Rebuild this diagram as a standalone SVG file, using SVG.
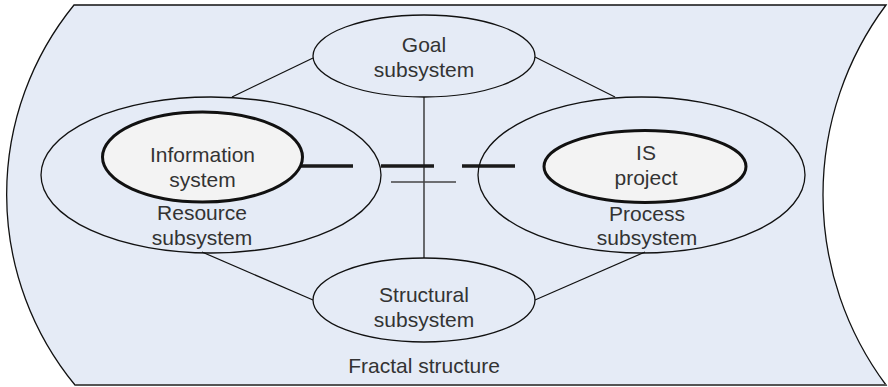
<svg xmlns="http://www.w3.org/2000/svg" width="888" height="387" viewBox="0 0 888 387">
  <style>
    .frame { fill: #e5ebf6; stroke: #111; stroke-width: 1.3; }
    .sub { fill: none; stroke: #111; stroke-width: 1.3; }
    .core { fill: #f3f3f3; stroke: #111; stroke-width: 3; }
    .link { stroke: #111; stroke-width: 1.2; fill: none; }
    text { font-family: "Liberation Sans", Arial, sans-serif; font-size: 21px; fill: #333; text-anchor: middle; }
  </style>

  <!-- fractal structure frame -->
  <g id="frame">
    <path class="frame" d="M 74 5 L 886 5 A 318 318 0 0 0 886 385 L 75 385 A 300 300 0 0 1 74 5 Z"/>
    <line x1="75" y1="385" x2="886" y2="385" stroke="#555" stroke-width="2.2"/>
    <text x="424" y="373">Fractal structure</text>
  </g>

  <!-- connectors -->
  <g id="connectors">
    <line class="link" x1="232" y1="97" x2="313" y2="58"/>
    <line class="link" x1="535" y1="57" x2="615" y2="97"/>
    <line class="link" x1="424" y1="97" x2="424" y2="258"/>
    <line class="link" x1="202" y1="252" x2="313" y2="300"/>
    <line class="link" x1="645" y1="252" x2="535" y2="300"/>
    <line x1="300" y1="166" x2="547" y2="166" stroke="#1a1a1a" stroke-width="3.5" stroke-dasharray="53 28"/>
    <line x1="391" y1="182" x2="456" y2="182" stroke="#444" stroke-width="1.5"/>
  </g>

  <g id="goal">
    <ellipse class="sub" cx="424" cy="56" rx="111" ry="41"/>
    <text x="424" y="52">Goal</text>
    <text x="424" y="77">subsystem</text>
  </g>

  <g id="resource">
    <ellipse class="sub" cx="211" cy="175" rx="170" ry="78"/>
    <text x="202" y="220">Resource</text>
    <text x="202" y="245">subsystem</text>
  </g>

  <g id="process">
    <ellipse class="sub" cx="641.5" cy="175" rx="163.5" ry="78"/>
    <text x="647" y="221">Process</text>
    <text x="647" y="245">subsystem</text>
  </g>

  <g id="information-system">
    <ellipse class="core" cx="202.5" cy="157" rx="100" ry="45"/>
    <text x="202.5" y="162">Information</text>
    <text x="202.5" y="187">system</text>
  </g>

  <g id="is-project">
    <ellipse class="core" cx="645" cy="166.5" rx="101" ry="36"/>
    <text x="646" y="160">IS</text>
    <text x="646" y="185">project</text>
  </g>

  <g id="structural">
    <ellipse class="sub" cx="424" cy="300" rx="111" ry="42"/>
    <text x="424" y="302">Structural</text>
    <text x="424" y="327">subsystem</text>
  </g>
</svg>
